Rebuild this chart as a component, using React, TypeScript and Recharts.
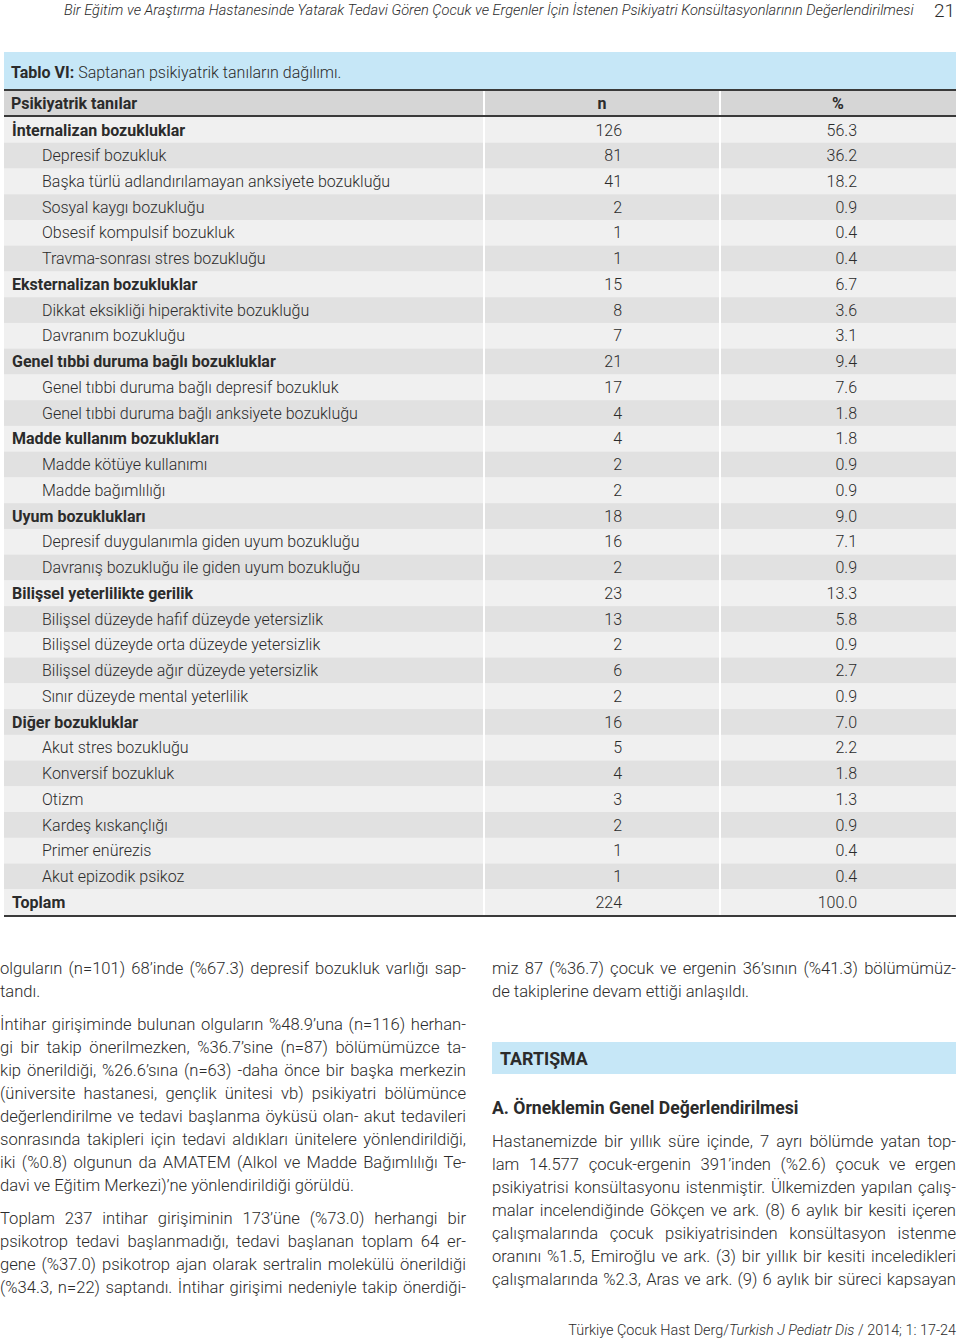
import React from 'react';
import { BarChart, Bar, XAxis, YAxis, ReferenceLine } from 'recharts';

// --- TABLE DATA ---
const diagnoses = [
  'İnternalizan bozukluklar',
  'Depresif bozukluk',
  'Başka türlü adlandırılamayan anksiyete bozukluğu',
  'Sosyal kaygı bozukluğu',
  'Obsesif kompulsif bozukluk',
  'Travma-sonrası stres bozukluğu',
  'Eksternalizan bozukluklar',
  'Dikkat eksikliği hiperaktivite bozukluğu',
  'Davranım bozukluğu',
  'Genel tıbbi duruma bağlı bozukluklar',
  'Genel tıbbi duruma bağlı depresif bozukluk',
  'Genel tıbbi duruma bağlı anksiyete bozukluğu',
  'Madde kullanım bozuklukları',
  'Madde kötüye kullanımı',
  'Madde bağımlılığı',
  'Uyum bozuklukları',
  'Depresif duygulanımla giden uyum bozukluğu',
  'Davranış bozukluğu ile giden uyum bozukluğu',
  'Bilişsel yeterlilikte gerilik',
  'Bilişsel düzeyde hafif düzeyde yetersizlik',
  'Bilişsel düzeyde orta düzeyde yetersizlik',
  'Bilişsel düzeyde ağır düzeyde yetersizlik',
  'Sınır düzeyde mental yeterlilik',
  'Diğer bozukluklar',
  'Akut stres bozukluğu',
  'Konversif bozukluk',
  'Otizm',
  'Kardeş kıskançlığı',
  'Primer enürezis',
  'Akut epizodik psikoz',
  'Toplam',
];

const nValues = [126, 81, 41, 2, 1, 1, 15, 8, 7, 21, 17, 4, 4, 2, 2, 18, 16, 2, 23, 13, 2, 6, 2, 16, 5, 4, 3, 2, 1, 1, 224];

const pctValues = [56.3, 36.2, 18.2, 0.9, 0.4, 0.4, 6.7, 3.6, 3.1, 9.4, 7.6, 1.8, 1.8, 0.9, 0.9, 9.0, 7.1, 0.9, 13.3, 5.8, 0.9, 2.7, 0.9, 7.0, 2.2, 1.8, 1.3, 0.9, 0.4, 0.4, 100.0];

// group heading rows (bold, not indented)
const groupRows = ['İnternalizan bozukluklar', 'Eksternalizan bozukluklar', 'Genel tıbbi duruma bağlı bozukluklar',
  'Madde kullanım bozuklukları', 'Uyum bozuklukları', 'Bilişsel yeterlilikte gerilik', 'Diğer bozukluklar', 'Toplam'];

// --- TEXT BELOW THE TABLE (line by line, as printed) ---
const leftParagraphs = [
  ['olguların (n=101) 68’inde (%67.3) depresif bozukluk varlığı sap-', 'tandı.'],
  [
    'İntihar girişiminde bulunan olguların %48.9’una (n=116) herhan-',
    'gi bir takip önerilmezken, %36.7’sine (n=87) bölümümüzce ta-',
    'kip önerildiği, %26.6’sına (n=63) -daha önce bir başka merkezin',
    '(üniversite hastanesi, gençlik ünitesi vb) psikiyatri bölümünce',
    'değerlendirilme ve tedavi başlanma öyküsü olan- akut tedavileri',
    'sonrasında takipleri için tedavi aldıkları ünitelere yönlendirildiği,',
    'iki (%0.8) olgunun da AMATEM (Alkol ve Madde Bağımlılığı Te-',
    'davi ve Eğitim Merkezi)’ne yönlendirildiği görüldü.',
  ],
  [
    'Toplam 237 intihar girişiminin 173’üne (%73.0) herhangi bir',
    'psikotrop tedavi başlanmadığı, tedavi başlanan toplam 64 er-',
    'gene (%37.0) psikotrop ajan olarak sertralin molekülü önerildiği',
    '(%34.3, n=22) saptandı. İntihar girişimi nedeniyle takip önerdiği-',
  ],
];

const rightIntro = ['miz 87 (%36.7) çocuk ve ergenin 36’sının (%41.3) bölümümüz-', 'de takiplerine devam ettiği anlaşıldı.'];
const rightBody = [
  'Hastanemizde bir yıllık süre içinde, 7 ayrı bölümde yatan top-',
  'lam 14.577 çocuk-ergenin 391’inden (%2.6) çocuk ve ergen',
  'psikiyatrisi konsültasyonu istenmiştir. Ülkemizden yapılan çalış-',
  'malar incelendiğinde Gökçen ve ark. (8) 6 aylık bir kesiti içeren',
  'çalışmalarında çocuk psikiyatrisinden konsültasyon istenme',
  'oranını %1.5, Emiroğlu ve ark. (3)  bir yıllık bir kesiti inceledikleri',
  'çalışmalarında %2.3, Aras ve ark. (9) 6 aylık bir süreci kapsayan',
];

// --- LAYOUT CONSTANTS ---
const FONT = 'Roboto, "Liberation Sans", Arial, sans-serif';
const TEXT = '#2b2b2b';
const TABLE_X = 4;
const TABLE_W = 952;
const COL1 = 480; // first separator (chart coords)
const COL2 = 716;
const ROW_LIGHT = '#f0f0f0';
const ROW_DARK = '#e1e1e1';
const BLUE = '#c6e7f7';

const tableData = diagnoses.map((label, i) => ({
  label,
  n: nValues[i],
  pct: pctValues[i],
  group: groupRows.includes(label),
  span: TABLE_W,
}));

const RowShape = (props: any) => {
  const { x, y, width, height, index, payload } = props;
  const cy = y + height / 2 + 5.5;
  return (
    <g>
      <rect x={x} y={y} width={width} height={height} fill={index % 2 === 0 ? ROW_LIGHT : ROW_DARK} />
      <text
        x={x + (payload.group ? 8 : 38)}
        y={cy}
        fontSize={16}
        fontFamily={FONT}
        fontWeight={payload.group ? 700 : 300}
        fill={TEXT}
      >
        {payload.label}
      </text>
      <text x={x + 618} y={cy} fontSize={16} fontFamily={FONT} fontWeight={300} fill={TEXT} textAnchor="end">
        {payload.n}
      </text>
      <text x={x + 853} y={cy} fontSize={16} fontFamily={FONT} fontWeight={300} fill={TEXT} textAnchor="end">
        {payload.pct.toFixed(1)}
      </text>
    </g>
  );
};

const Line = ({ text, justify, style }: { text: string; justify: boolean; style?: React.CSSProperties }) => (
  <div style={{ textAlign: 'justify', textAlignLast: justify ? 'justify' : 'left', whiteSpace: 'nowrap', ...style }}>{text}</div>
);

const bodyText: React.CSSProperties = {
  fontFamily: FONT,
  fontWeight: 300,
  fontSize: 16.6,
  lineHeight: '23px',
  color: TEXT,
};

const App: React.FC = () => {
  return (
    <div style={{ position: 'absolute', left: 0, top: 0, width: 960, height: 1341, background: '#fff', overflow: 'hidden' }}>
      {/* running head */}
      <div style={{ position: 'absolute', left: 64, top: 0, fontFamily: FONT, fontWeight: 300, fontStyle: 'italic', fontSize: 14.6, color: TEXT, lineHeight: '20px' }}>
        Bir Eğitim ve Araştırma Hastanesinde Yatarak Tedavi Gören Çocuk ve Ergenler İçin İstenen Psikiyatri Konsültasyonlarının Değerlendirilmesi
      </div>
      <div style={{ position: 'absolute', right: 5, top: 0, fontFamily: FONT, fontWeight: 300, fontSize: 19, color: TEXT, lineHeight: '22px' }}>21</div>

      {/* caption band */}
      <div style={{ position: 'absolute', left: TABLE_X, top: 52, width: TABLE_W, height: 37, background: BLUE, fontFamily: FONT, fontSize: 16, color: TEXT, lineHeight: '42px', paddingLeft: 7, boxSizing: 'border-box' }}>
        <span style={{ fontWeight: 700 }}>Tablo VI:</span> <span style={{ fontWeight: 300 }}>Saptanan psikiyatrik tanıların dağılımı.</span>
      </div>
      <div style={{ position: 'absolute', left: TABLE_X, top: 89, width: TABLE_W, height: 2, background: '#3a3a3a' }} />

      {/* header row */}
      <div style={{ position: 'absolute', left: TABLE_X, top: 91, width: TABLE_W, height: 24, background: '#d6d6d6', fontFamily: FONT, fontWeight: 700, fontSize: 16, color: TEXT, lineHeight: '25px' }}>
        <span style={{ position: 'absolute', left: 7 }}>Psikiyatrik tanılar</span>
        <span style={{ position: 'absolute', left: COL1, width: COL2 - COL1, textAlign: 'center' }}>n</span>
        <span style={{ position: 'absolute', left: COL2, width: TABLE_W - COL2, textAlign: 'center' }}>%</span>
        <div style={{ position: 'absolute', left: COL1 - 1, top: 0, width: 2, height: 24, background: '#fff' }} />
        <div style={{ position: 'absolute', left: COL2 - 1, top: 0, width: 2, height: 24, background: '#fff' }} />
      </div>
      <div style={{ position: 'absolute', left: TABLE_X, top: 115, width: TABLE_W, height: 2, background: '#3a3a3a' }} />

      {/* table body drawn as a vertical bar chart: one full-width band per row */}
      <div style={{ position: 'absolute', left: TABLE_X, top: 117 }}>
        <BarChart
          width={TABLE_W}
          height={798}
          data={tableData}
          layout="vertical"
          margin={{ top: 0, right: 0, bottom: 0, left: 0 }}
          barCategoryGap={0}
        >
          <XAxis type="number" hide domain={[0, TABLE_W]} />
          <YAxis type="category" dataKey="label" hide />
          <Bar dataKey="span" shape={<RowShape />} isAnimationActive={false} />
          <ReferenceLine x={COL1} stroke="#fff" strokeWidth={2} />
          <ReferenceLine x={COL2} stroke="#fff" strokeWidth={2} />
        </BarChart>
      </div>
      <div style={{ position: 'absolute', left: TABLE_X, top: 915, width: TABLE_W, height: 2, background: '#3a3a3a' }} />

      {/* left column text */}
      <div style={{ position: 'absolute', left: 0, top: 957, width: 466, ...bodyText }}>
        {leftParagraphs.map((para, pi) => (
          <div key={pi} style={{ marginBottom: 10 }}>
            {para.map((line, li) => (
              <Line key={li} text={line} justify={li < para.length - 1 || pi === leftParagraphs.length - 1} />
            ))}
          </div>
        ))}
      </div>

      {/* right column text */}
      <div style={{ position: 'absolute', left: 492, top: 957, width: 464, ...bodyText }}>
        {rightIntro.map((line, li) => (
          <Line key={li} text={line} justify={li < rightIntro.length - 1} />
        ))}
      </div>
      <div style={{ position: 'absolute', left: 492, top: 1042, width: 464, height: 32, background: BLUE, fontFamily: FONT, fontWeight: 700, fontSize: 17.8, color: TEXT, lineHeight: '34px', paddingLeft: 8, boxSizing: 'border-box' }}>
        TARTIŞMA
      </div>
      <div style={{ position: 'absolute', left: 492, top: 1097, fontFamily: FONT, fontWeight: 700, fontSize: 17.6, color: TEXT, lineHeight: '23px' }}>
        A. Örneklemin Genel Değerlendirilmesi
      </div>
      <div style={{ position: 'absolute', left: 492, top: 1130, width: 464, ...bodyText }}>
        {rightBody.map((line, li) => (
          <Line key={li} text={line} justify={true} />
        ))}
      </div>

      {/* footer */}
      <div style={{ position: 'absolute', right: 4, top: 1321, fontFamily: FONT, fontWeight: 300, fontSize: 14.4, color: TEXT, lineHeight: '20px' }}>
        Türkiye Çocuk Hast Derg/<i>Turkish J Pediatr Dis</i> / 2014; 1: 17-24
      </div>
    </div>
  );
};

export default App;
